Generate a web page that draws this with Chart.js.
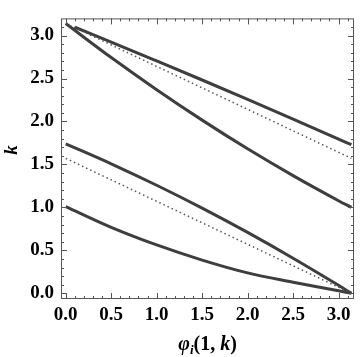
<!DOCTYPE html>
<html lang="en">
<head>
  <meta charset="UTF-8">
  <title>k vs phi_i(1, k)</title>
  <script src="https://cdn.jsdelivr.net/npm/chart.js"></script>
  <style>
    html, body { margin: 0; padding: 0; background: #fff; }
    #wrap { width: 360px; height: 357px; }
  </style>
</head>
<body>
  <div id="wrap"><canvas id="c"></canvas></div>
  <script>
    // values
    const PI = 3.14159;
    const xs = [0, 0.5, 1.0, 1.5, 2.0, 2.5, 3.0, PI];
    const upperLineX = [0.1, 0.5, 1.0, 1.5, 2.0, 2.5, 3.0, PI];
    const upperLineY = [3.097, 2.925, 2.705, 2.483, 2.257, 2.028, 1.796, 1.73];
    const upperCurveY = [3.14, 2.744, 2.37, 2.016, 1.682, 1.37, 1.078, 1.0];
    const lowerLineY = [1.74, 1.508, 1.258, 0.992, 0.709, 0.409, 0.093, 0.0];
    const lowerCurveY = [1.01, 0.768, 0.563, 0.387, 0.238, 0.13, 0.03, 0.0];
    const dotUpperX = [0, PI];
    const dotUpperY = [PI, PI / 2];
    const dotLowerX = [0, PI];
    const dotLowerY = [PI / 2, 0];

    const xTicks = [0, 0.5, 1.0, 1.5, 2.0, 2.5, 3.0];
    const yTicks = [0, 0.5, 1.0, 1.5, 2.0, 2.5, 3.0];
    const minorStep = 0.1;

    const pts = (xa, ya) => xa.map((x, i) => ({ x: x, y: ya[i] }));
    const solid = (data) => ({
      data: data, borderColor: '#3e3e3e', borderWidth: 3, pointRadius: 0,
      cubicInterpolationMode: 'monotone', fill: false
    });
    const dotted = (data) => ({
      data: data, borderColor: '#555', borderWidth: 1.5, borderDash: [1.5, 3],
      pointRadius: 0, fill: false
    });

    const tickFont = { family: 'Liberation Serif', size: 19, weight: 'bold' };

    // frame, inward ticks on all four sides, axis titles
    const framePlugin = {
      id: 'frame',
      afterDraw(chart) {
        const ctx = chart.ctx;
        const a = chart.chartArea;
        const sx = chart.scales.x, sy = chart.scales.y;
        ctx.save();
        ctx.strokeStyle = '#555';
        ctx.lineWidth = 1;
        ctx.strokeRect(a.left + 0.5, a.top + 0.5, a.right - a.left - 1, a.bottom - a.top - 1);
        ctx.beginPath();
        for (let v = 0; v <= 3.11; v += minorStep) {
          const major = Math.abs(v * 2 - Math.round(v * 2)) < 1e-6;
          const len = major ? 6 : 3;
          const px = Math.round(sx.getPixelForValue(v)) + 0.5;
          ctx.moveTo(px, a.bottom); ctx.lineTo(px, a.bottom - len);
          ctx.moveTo(px, a.top); ctx.lineTo(px, a.top + len);
          const py = Math.round(sy.getPixelForValue(v)) + 0.5;
          ctx.moveTo(a.left, py); ctx.lineTo(a.left + len, py);
          ctx.moveTo(a.right, py); ctx.lineTo(a.right - len, py);
        }
        ctx.stroke();

        // y title
        ctx.fillStyle = '#000';
        ctx.save();
        ctx.translate(17, 150);
        ctx.rotate(-Math.PI / 2);
        ctx.font = 'bold italic 19px "Liberation Serif"';
        ctx.textAlign = 'center';
        ctx.textBaseline = 'alphabetic';
        ctx.fillText('k', 0, 0);
        ctx.restore();

        // x title: φ_i(1, k)
        const parts = [
          { t: 'φ', f: 'bold italic 20px "Liberation Serif"', dy: 0 },
          { t: 'i', f: 'bold italic 13px "Liberation Serif"', dy: 4 },
          { t: '(1, ', f: 'bold 20px "Liberation Serif"', dy: 0 },
          { t: 'k', f: 'bold italic 20px "Liberation Serif"', dy: 0 },
          { t: ')', f: 'bold 20px "Liberation Serif"', dy: 0 }
        ];
        let w = 0;
        parts.forEach(p => { ctx.font = p.f; p.w = ctx.measureText(p.t).width; w += p.w; });
        let x = (a.left + a.right) / 2 - w / 2;
        const base = 350;
        ctx.textAlign = 'left';
        parts.forEach(p => { ctx.font = p.f; ctx.fillText(p.t, x, base + p.dy); x += p.w; });
        ctx.restore();
      }
    };

    new Chart(document.getElementById('c'), {
      type: 'line',
      data: {
        datasets: [
          dotted(pts(dotUpperX, dotUpperY)),
          dotted(pts(dotLowerX, dotLowerY)),
          solid(pts(upperLineX, upperLineY)),
          solid(pts(xs, upperCurveY)),
          solid(pts(xs, lowerLineY)),
          solid(pts(xs, lowerCurveY))
        ]
      },
      options: {
        responsive: true,
        maintainAspectRatio: false,
        animation: false,
        layout: { padding: { top: 1, right: 6, left: 0, bottom: 0 } },
        plugins: { legend: { display: false }, tooltip: { enabled: false } },
        scales: {
          x: {
            type: 'linear', min: -0.052, max: 3.17,
            grid: { display: false, drawTicks: false },
            border: { display: false },
            afterBuildTicks: (s) => { s.ticks = xTicks.map(v => ({ value: v })); },
            afterFit: (s) => { s.height = 58; },
            ticks: {
              autoSkip: false, maxRotation: 0, padding: 5, color: '#000', font: tickFont,
              callback: (v) => Number(v).toFixed(1)
            }
          },
          y: {
            type: 'linear', min: -0.066, max: 3.2,
            grid: { display: false, drawTicks: false },
            border: { display: false },
            afterBuildTicks: (s) => { s.ticks = yTicks.map(v => ({ value: v })); },
            afterFit: (s) => { s.width = 61; },
            ticks: {
              autoSkip: false, padding: 7, color: '#000', font: tickFont,
              callback: (v) => Number(v).toFixed(1)
            }
          }
        }
      },
      plugins: [framePlugin]
    });
  </script>
</body>
</html>
